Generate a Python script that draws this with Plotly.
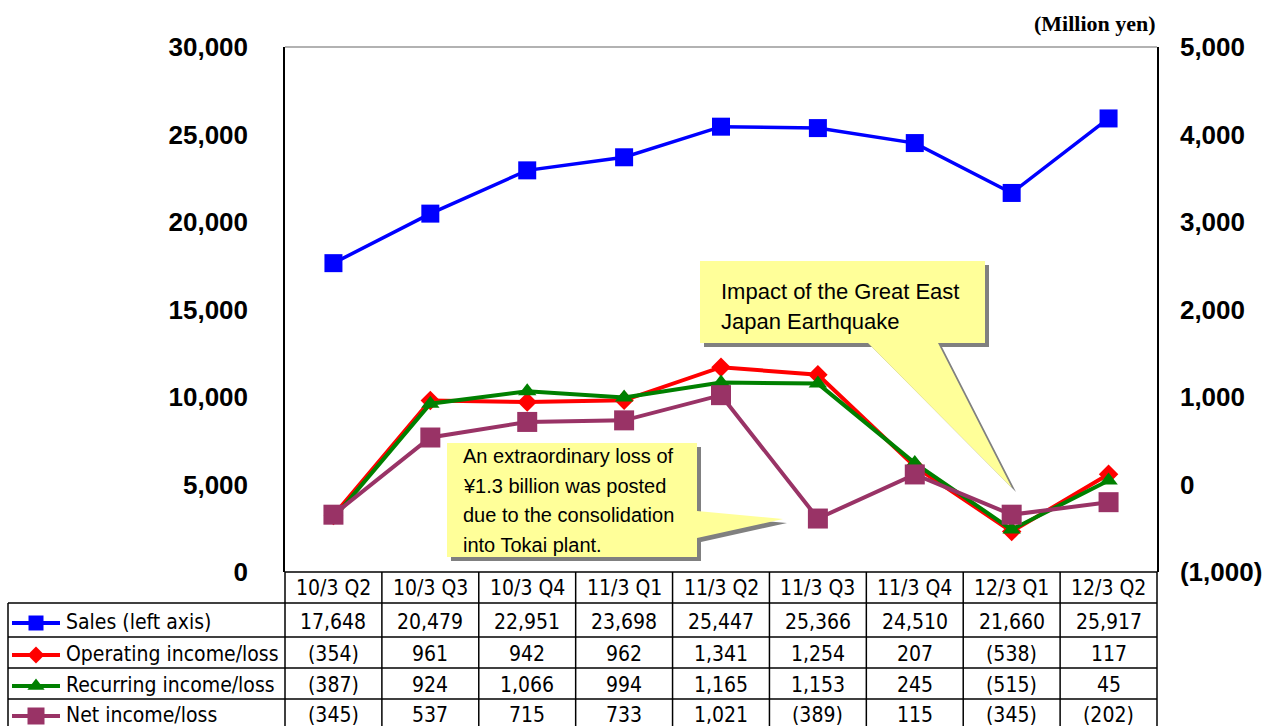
import plotly.graph_objects as go

W, H = 1279, 726

categories = ["10/3 Q2", "10/3 Q3", "10/3 Q4", "11/3 Q1", "11/3 Q2",
              "11/3 Q3", "11/3 Q4", "12/3 Q1", "12/3 Q2"]
sales = [17648, 20479, 22951, 23698, 25447, 25366, 24510, 21660, 25917]
operating = [-354, 961, 942, 962, 1341, 1254, 207, -538, 117]
recurring = [-387, 924, 1066, 994, 1165, 1153, 245, -515, 45]
net_income = [-345, 537, 715, 733, 1021, -389, 115, -345, -202]
series_names = ["Sales (left axis)", "Operating income/loss",
                "Recurring income/loss", "Net income/loss"]
left_ticks = [0, 5000, 10000, 15000, 20000, 25000, 30000]
right_ticks = [-1000, 0, 1000, 2000, 3000, 4000, 5000]
unit_label = "(Million yen)"
note_quake = ["Impact of the Great East", "Japan Earthquake"]
note_loss = ["An extraordinary loss of", "¥1.3 billion was posted",
             "due to the consolidation", "into Tokai plant."]

COLORS = ["#0000FF", "#FF0000", "#008000", "#993366"]
SYMBOLS = ["square", "diamond", "triangle-up", "square"]
MSIZES = [18, 15, 16, 20]
ICON_SIZES = [15, 13, 15, 17]


def fmt(v):
    return f"({abs(v):,})" if v < 0 else f"{v:,}"


def px(x):
    return x / W


def py(y):
    return 1 - y / H


PL, PR, PT, PB = 285, 1157, 47, 572
TL = 8
col_w = (PR - PL) / len(categories)
row_lines = [603, 637, 668, 699, 731]
row_centers = [621, 653, 684, 714]

TABLE_FONT = "Liberation Sans Narrow, Arial Narrow, DejaVu Sans Condensed, sans-serif"
AX_FONT = dict(family="Liberation Sans, Arial, sans-serif", size=26, color="black", weight="bold")

fig = go.Figure()

all_series = [sales, operating, recurring, net_income]
for i, (name, vals) in enumerate(zip(series_names, all_series)):
    fig.add_trace(go.Scatter(
        x=categories, y=vals, name=name, mode="lines+markers",
        yaxis="y" if i == 0 else "y2",
        line=dict(color=COLORS[i], width=4 if i else 3.5),
        marker=dict(symbol=SYMBOLS[i], size=MSIZES[i], color=COLORS[i]),
        showlegend=False, hoverinfo="skip"))

# legend icons in table (pixel-coordinate overlay axes)
for i in range(4):
    fig.add_trace(go.Scatter(
        x=[12, 36, 60], y=[row_centers[i] + 2] * 3, xaxis="x3", yaxis="y3",
        mode="lines", line=dict(color=COLORS[i], width=4),
        showlegend=False, hoverinfo="skip"))
    fig.add_trace(go.Scatter(
        x=[36], y=[row_centers[i] + 2], xaxis="x3", yaxis="y3",
        mode="markers", marker=dict(symbol=SYMBOLS[i], size=ICON_SIZES[i], color=COLORS[i]),
        showlegend=False, hoverinfo="skip"))

shapes = []
annotations = []


def line(x0, y0, x1, y1, color="black", width=1.5):
    shapes.append(dict(type="line", xref="paper", yref="paper",
                       x0=px(x0), y0=py(y0), x1=px(x1), y1=py(y1),
                       line=dict(color=color, width=width), layer="above"))


def poly(pts, color, dx=0, dy=0):
    d = "M " + " L ".join(f"{px(x + dx)},{py(y + dy)}" for x, y in pts) + " Z"
    shapes.append(dict(type="path", xref="paper", yref="paper", path=d,
                       fillcolor=color, line=dict(width=0), layer="above"))


# plot frame top (gray)
line(PL, PT, PR, PT, color="#999999", width=1.5)

# table lines
line(PL, PB, PR, PB)
for y in row_lines:
    line(TL, y, PR, y)
line(TL, row_lines[0], TL, H)
for k in range(len(categories) + 1):
    x = PL + col_w * k
    line(x, PB, x, H)

# header text
for i, c in enumerate(categories):
    annotations.append(dict(xref="paper", yref="paper", x=px(PL + col_w * (i + 0.5)), y=py(588),
                            text=c, showarrow=False, xanchor="center", yanchor="middle",
                            font=dict(family=TABLE_FONT, size=21, color="black")))
# row labels and values
for r, (name, vals) in enumerate(zip(series_names, all_series)):
    annotations.append(dict(xref="paper", yref="paper", x=px(64), y=py(row_centers[r] + 1),
                            text=name, showarrow=False, xanchor="left", yanchor="middle",
                            font=dict(family=TABLE_FONT, size=21, color="black")))
    for i, v in enumerate(vals):
        annotations.append(dict(xref="paper", yref="paper", x=px(PL + col_w * (i + 0.5)),
                                y=py(row_centers[r] + 1), text=fmt(v), showarrow=False,
                                xanchor="center", yanchor="middle",
                                font=dict(family=TABLE_FONT, size=21, color="black")))

# unit label
annotations.append(dict(xref="paper", yref="paper", x=px(1158), y=py(23), text=unit_label,
                        showarrow=False, xanchor="right", yanchor="middle",
                        font=dict(family="Liberation Serif, Times New Roman, serif", size=22,
                                  color="black", weight="bold")))

# callout 1 (earthquake)
c1 = [(700, 261), (985, 261), (985, 343), (938, 343), (1012, 488), (868, 343), (700, 343)]
poly(c1, "#808080", dx=4, dy=4)
poly(c1, "#FFFF99")
for j, t in enumerate(note_quake):
    annotations.append(dict(xref="paper", yref="paper", x=px(719), y=py(291 + 30 * j),
                            text=t, showarrow=False, xanchor="left", yanchor="middle",
                            font=dict(family="Liberation Sans, Arial, sans-serif", size=22, color="black")))

# callout 2 (extraordinary loss)
c2 = [(447, 443), (697, 443), (697, 511), (783, 519), (697, 538), (697, 557), (447, 557)]
poly(c2, "#808080", dx=4, dy=4)
poly(c2, "#FFFF99")
for j, t in enumerate(note_loss):
    annotations.append(dict(xref="paper", yref="paper", x=px(461), y=py(456 + 29.5 * j),
                            text=t, showarrow=False, xanchor="left", yanchor="middle",
                            font=dict(family="Liberation Sans, Arial, sans-serif", size=20, color="black")))

fig.update_layout(
    width=W, height=H, margin=dict(l=0, r=0, t=0, b=0, pad=0, autoexpand=False),
    paper_bgcolor="white", plot_bgcolor="rgba(0,0,0,0)",
    showlegend=False,
    xaxis=dict(domain=[px(PL), px(PR)], range=[-0.5, 8.5], type="category", automargin=False,
               showticklabels=False, showgrid=False, zeroline=False, showline=False, ticks=""),
    yaxis=dict(domain=[py(PB), py(PT)], range=[0, 30000], tickvals=left_ticks, automargin=False,
               ticktext=[fmt(v) for v in left_ticks], tickfont=AX_FONT,
               showgrid=False, zeroline=False, showline=True, linecolor="black", linewidth=1.5,
               ticks="", ticklabelstandoff=30),
    yaxis2=dict(domain=[py(PB), py(PT)], range=[-1000, 5000], overlaying="y", side="right",
                tickvals=right_ticks, ticktext=[fmt(v) for v in right_ticks], tickfont=AX_FONT,
                automargin=False,
                showgrid=False, zeroline=False, showline=True, linecolor="black", linewidth=1.5,
                ticks="", ticklabelstandoff=16),
    xaxis3=dict(domain=[0, 1], range=[0, W], visible=False, fixedrange=True, anchor="y3",
                automargin=False),
    yaxis3=dict(domain=[0, 1], range=[H, 0], visible=False, fixedrange=True, anchor="x3",
                automargin=False),
    shapes=shapes, annotations=annotations,
)

fig.write_html("out.html")
